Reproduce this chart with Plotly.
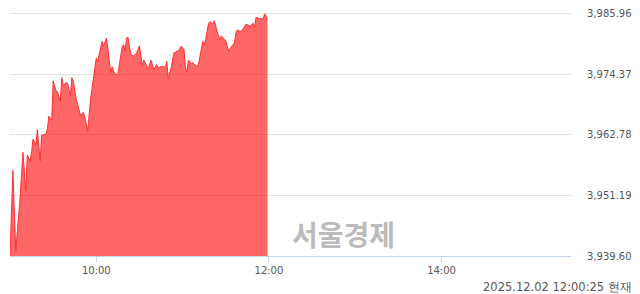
import plotly.graph_objects as go

times = ["09:00","09:02","09:04","09:07","09:09","09:11","09:12","09:14","09:15","09:16",
         "09:18","09:19","09:21","09:22","09:25","09:26","09:27","09:29","09:30","09:32",
         "09:33","09:35","09:36","09:37","09:39","09:40","09:42","09:43","09:44","09:46",
         "09:49","09:50","09:51","09:52","09:54","09:56","10:00","10:01","10:02","10:04",
         "10:05","10:07","10:08","10:10","10:11","10:13","10:15","10:18","10:19","10:20",
         "10:21","10:22","10:24","10:26","10:28","10:30","10:32","10:33","10:35","10:36",
         "10:38","10:40","10:42","10:43","10:46","10:48","10:49","10:50","10:52","10:54",
         "10:56","10:57","10:59","11:01","11:02","11:03","11:04","11:06","11:07","11:10",
         "11:11","11:14","11:15","11:16","11:18","11:19","11:21","11:22","11:24","11:26",
         "11:27","11:29","11:30","11:32","11:34","11:36","11:37","11:38","11:40","11:42",
         "11:44","11:45","11:47","11:49","11:50","11:51","11:53","11:55","11:56","11:57",
         "11:58","11:59"]
values = [3939.60,3955.98,3940.54,3950.75,3959.44,3952.01,3958.95,3957.68,3959.57,3961.97,
          3960.83,3963.78,3957.81,3962.72,3962.91,3963.91,3966.37,3965.67,3973.11,3971.22,
          3971.04,3969.15,3973.74,3972.17,3972.79,3972.66,3970.15,3973.74,3973.11,3969.64,
          3966.50,3966.80,3967.12,3966.18,3963.48,3969.64,3977.52,3976.89,3978.14,3980.67,
          3979.73,3981.29,3979.41,3974.68,3975.82,3974.36,3974.36,3979.73,3980.03,3978.78,
          3981.29,3981.48,3978.14,3977.84,3978.46,3979.84,3975.95,3977.08,3975.95,3975.31,
          3977.08,3975.31,3976.25,3975.63,3975.95,3975.63,3976.89,3973.55,3975.63,3978.46,
          3978.78,3978.89,3979.73,3979.08,3975.63,3974.68,3977.08,3976.44,3976.57,3975.82,
          3976.25,3980.67,3980.03,3980.97,3984.13,3984.45,3983.99,3984.64,3982.56,3980.97,
          3981.73,3980.97,3980.86,3978.78,3979.73,3980.35,3982.24,3982.86,3982.56,3982.99,
          3983.94,3983.80,3983.62,3984.13,3983.37,3985.26,3985.07,3985.07,3984.88,3985.96,
          3985.50,3984.94]

date = "2025-12-02"
y_ticks = [3939.60, 3951.19, 3962.78, 3974.37, 3985.96]
y_tick_labels = ["3,939.60", "3,951.19", "3,962.78", "3,974.37", "3,985.96"]
y_top = 3986.30
x_ticks = ["10:00", "12:00", "14:00"]
x_range = ["09:00", "15:30"]
stamp = "2025.12.02 12:00:25 현재"
watermark = "서울경제"

xs = [f"{date} {t}" for t in times]

fig = go.Figure()
fig.add_trace(go.Scatter(
    x=xs, y=values, mode="lines",
    line=dict(color="#ff3030", width=1),
    fill="tozeroy", fillcolor="rgba(255,0,0,0.6)",
    hoverinfo="skip", showlegend=False,
))

fig.update_layout(
    width=640, height=294,
    margin=dict(l=10, r=67, t=8, b=38),
    paper_bgcolor="white", plot_bgcolor="white",
    font=dict(family="DejaVu Sans", size=10, color="#555555"),
    xaxis=dict(
        range=[f"{date} {x_range[0]}", f"{date} {x_range[1]}"],
        tickvals=[f"{date} {t}" for t in x_ticks],
        ticktext=x_ticks,
        showgrid=False, zeroline=False,
        showline=True, linecolor="#c5d5ea", linewidth=1,
        ticks="outside", ticklen=5, tickcolor="#c5d5ea",
        tickfont=dict(family="DejaVu Sans", size=10, color="#555555"),
    ),
    yaxis=dict(
        range=[y_ticks[0], y_top],
        tickvals=y_ticks, ticktext=y_tick_labels,
        side="right",
        showgrid=True, gridcolor="#e3e3e3", gridwidth=1,
        zeroline=False, showline=False,
        ticks="outside", ticklen=13, tickcolor="rgba(0,0,0,0)",
        tickfont=dict(family="DejaVu Sans", size=10, color="#555555"),
    ),
    annotations=[
        dict(text=f"<b>{watermark}</b>", xref="paper", yref="paper", x=0.595, y=0.09,
             xanchor="center", yanchor="middle", showarrow=False,
             font=dict(family="Noto Sans CJK KR", size=28, color="#bbbbbb")),
        dict(text=stamp, xref="paper", yref="paper", x=1.0, xshift=63, y=0, yshift=-31,
             xanchor="right", yanchor="middle", showarrow=False,
             font=dict(family="DejaVu Sans", size=11.5, color="#555555")),
    ],
)

fig.write_html("out.html")
